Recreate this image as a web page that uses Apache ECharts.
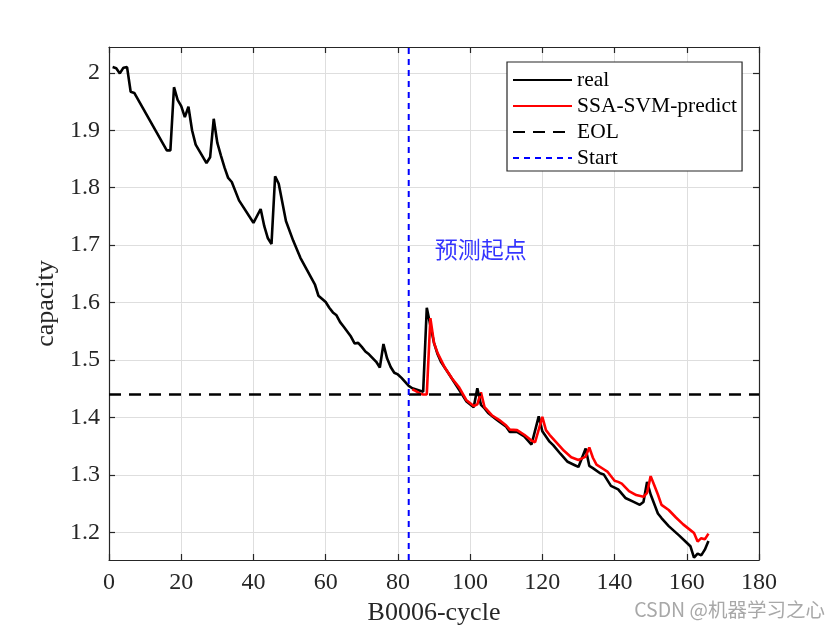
<!DOCTYPE html>
<html>
<head>
<meta charset="utf-8">
<script src="https://cdn.jsdelivr.net/npm/echarts@6/dist/echarts.min.js"></script>
<style>html,body{margin:0;padding:0;background:#fff}#c{width:840px;height:630px}</style>
</head>
<body>
<div id="c"></div>
<script>
// ---- data ----
const realCycles = [1,2,3,4,5,6,7,16,17,18,19,20,21,22,23,24,27,28,29,30,31,32,33,34,36,40,42,43,44,45,46,47,49,51,53,57,58,60,61,62,63,64,65,67,68,69,70,71,72,74,75,76,77,78,79,80,81,82,83,84,87,88,89,90,91,92,94,97,99,101,102,103,104,105,107,108,110,111,113,115,117,119,120,122,123,125,127,129,130,132,133,134,136,137,139,141,143,145,147,148,149,150,152,153,155,158,160,161,162,163,164,165,166];
const realCapacity = [2.010,2.008,1.999,2.009,2.010,1.967,1.965,1.865,1.865,1.975,1.953,1.942,1.923,1.941,1.900,1.875,1.843,1.853,1.920,1.878,1.856,1.835,1.817,1.810,1.778,1.739,1.763,1.733,1.712,1.702,1.820,1.807,1.742,1.708,1.678,1.632,1.612,1.601,1.591,1.583,1.578,1.566,1.558,1.541,1.529,1.530,1.523,1.515,1.510,1.497,1.487,1.528,1.503,1.488,1.478,1.475,1.469,1.462,1.455,1.451,1.445,1.591,1.560,1.530,1.510,1.496,1.477,1.448,1.428,1.418,1.451,1.422,1.416,1.408,1.398,1.393,1.384,1.375,1.375,1.367,1.353,1.402,1.376,1.358,1.352,1.337,1.323,1.317,1.314,1.346,1.316,1.312,1.303,1.301,1.281,1.275,1.260,1.254,1.248,1.253,1.288,1.266,1.233,1.225,1.211,1.194,1.182,1.176,1.156,1.163,1.160,1.170,1.185];
const predCycles = [84,85,86,87,88,89,90,91,93,95,97,99,101,102,103,104,106,108,110,111,113,115,117,118,120,121,122,124,126,128,130,131,132,133,134,135,137,138,140,141,142,144,146,148,149,150,151,152,153,155,157,159,161,162,163,164,165,166];
const predCapacity = [1.449,1.446,1.442,1.440,1.440,1.573,1.530,1.512,1.487,1.468,1.452,1.430,1.420,1.423,1.444,1.418,1.404,1.396,1.386,1.379,1.378,1.370,1.360,1.357,1.401,1.378,1.370,1.356,1.342,1.331,1.326,1.329,1.332,1.348,1.330,1.318,1.310,1.306,1.290,1.288,1.285,1.272,1.265,1.262,1.269,1.298,1.282,1.266,1.248,1.239,1.226,1.214,1.204,1.199,1.184,1.190,1.188,1.198];
const eolCapacity = 1.44;
const startCycle = 83;
const xTicks = [0,20,40,60,80,100,120,140,160,180];
const yTicks = [1.2,1.3,1.4,1.5,1.6,1.7,1.8,1.9,2.0];
const seriesNames = ['real','SSA-SVM-predict','EOL','Start'];
const annotationText = '预测起点';
const watermarkText = 'CSDN @机器学习之心';

// ---- chart ----
const X_MIN = xTicks[0], X_MAX = xTicks[xTicks.length - 1], Y_MIN = 1.152, Y_MAX = 2.045;
const SERIF = "'Liberation Serif','Times New Roman',serif";
const AX = '#262626';
const GRID = '#dedede';
const chart = echarts.init(document.getElementById('c'), null, {renderer: 'canvas'});

const pairs = (xs, ys) => xs.map((x, i) => [x, ys[i]]);
const yFmt = v => String(Math.round(v * 10) / 10);

const baseX = {
  type: 'value', min: X_MIN, max: X_MAX, interval: 20,
  axisLine: {show: true, onZero: false, lineStyle: {color: AX, width: 1.2}},
  axisTick: {show: true, inside: true, length: 6, lineStyle: {color: AX, width: 1.2}},
};
const baseY = {
  type: 'value', min: Y_MIN, max: Y_MAX,
  axisLine: {show: true, onZero: false, lineStyle: {color: AX, width: 1.2}},
  axisTick: {show: true, inside: true, length: 6, customValues: yTicks, lineStyle: {color: AX, width: 1.2}},
};

const option = {
  animation: false,
  backgroundColor: '#fff',
  grid: {left: 109, right: 81, top: 47, bottom: 70, containLabel: false, outerBoundsMode: 'none'},
  legend: {
    data: seriesNames,
    orient: 'vertical',
    left: 507, top: 62,
    padding: [7, 5, 2, 5],
    itemGap: 4,
    itemWidth: 59, itemHeight: 20,
    backgroundColor: '#fff',
    borderColor: AX, borderWidth: 1.2, borderRadius: 0,
    itemStyle: {opacity: 0},
    textStyle: {fontFamily: SERIF, fontSize: 21.5, color: '#000'},
    selectedMode: false
  },
  xAxis: [
    Object.assign({}, baseX, {
      position: 'bottom',
      name: 'B0006-cycle', nameLocation: 'middle', nameGap: 40,
      nameTextStyle: {fontFamily: SERIF, fontSize: 26, color: AX},
      axisLabel: {show: true, fontFamily: SERIF, fontSize: 24, color: AX, margin: 11},
      splitLine: {show: true, lineStyle: {color: GRID, width: 1}}
    }),
    Object.assign({}, baseX, {
      position: 'top',
      axisLabel: {show: false},
      splitLine: {show: false}
    })
  ],
  yAxis: [
    Object.assign({}, baseY, {
      position: 'left',
      name: 'capacity', nameLocation: 'middle', nameGap: 40,
      nameTextStyle: {fontFamily: SERIF, fontSize: 26, color: AX},
      axisLabel: {show: true, customValues: yTicks, formatter: yFmt, fontFamily: SERIF, fontSize: 24, color: AX, margin: 9},
      splitLine: {show: true, lineStyle: {color: GRID, width: 1}}
    }),
    Object.assign({}, baseY, {
      position: 'right',
      axisLabel: {show: false},
      splitLine: {show: false}
    })
  ],
  series: [
    {
      name: seriesNames[0], type: 'line', xAxisIndex: 0, yAxisIndex: 0,
      data: pairs(realCycles, realCapacity),
      symbol: 'none', lineStyle: {color: '#000', width: 2.6}, itemStyle: {color: '#000'}, z: 3
    },
    {
      name: seriesNames[1], type: 'line', xAxisIndex: 0, yAxisIndex: 0,
      data: pairs(predCycles, predCapacity),
      symbol: 'none', lineStyle: {color: '#ff0000', width: 2.6}, itemStyle: {color: '#ff0000'}, z: 4
    },
    {
      name: seriesNames[2], type: 'line', xAxisIndex: 0, yAxisIndex: 0,
      data: [[X_MIN, eolCapacity], [X_MAX, eolCapacity]],
      symbol: 'none', lineStyle: {color: '#000', width: 2.6, type: [12, 8]}, itemStyle: {color: '#000'}, z: 5
    },
    {
      name: seriesNames[3], type: 'line', xAxisIndex: 0, yAxisIndex: 0,
      data: [[startCycle, Y_MIN], [startCycle, Y_MAX]],
      symbol: 'none', lineStyle: {color: '#0000ff', width: 2, type: [6, 5]}, itemStyle: {color: '#0000ff'}, z: 5
    },
    {
      name: 'annotation', type: 'scatter', xAxisIndex: 0, yAxisIndex: 0,
      data: [[90.2, 1.693]], symbolSize: 0, silent: true,
      label: {show: true, position: 'right', distance: 0, formatter: annotationText,
        fontFamily: "'Noto Sans CJK SC',sans-serif", fontSize: 23, color: '#0000ff'}
    }
  ],
  graphic: [
    {type: 'text', right: 15, top: 600,
     style: {text: watermarkText, fill: '#a8a8a8', fontSize: 19.5, fontFamily: "'Noto Sans CJK SC','DejaVu Sans',sans-serif"}}
  ]
};
chart.setOption(option);
</script>
</body>
</html>
